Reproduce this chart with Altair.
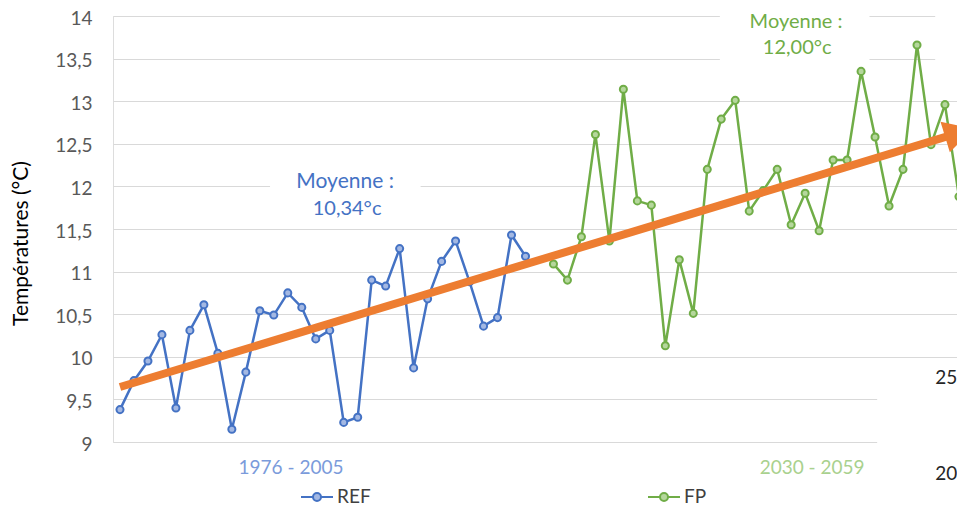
import altair as alt
import pandas as pd

# ---------------- data ----------------
ref_slots = list(range(0, 30))          # 1976 .. 2005
ref_temps = [9.38, 9.72, 9.95, 10.26, 9.40, 10.31, 10.61, 10.04, 9.15, 9.82,
             10.54, 10.49, 10.75, 10.58, 10.21, 10.31, 9.23, 9.29, 10.90, 10.83,
             11.27, 9.87, 10.68, 11.12, 11.36, 10.88, 10.36, 10.46, 11.43, 11.18]
fp_slots = list(range(31, 61))          # 2030 .. 2059
fp_temps = [11.09, 10.90, 11.41, 12.61, 11.36, 13.14, 11.83, 11.78, 10.13, 11.14,
            10.51, 12.20, 12.79, 13.01, 11.71, 11.95, 12.20, 11.55, 11.92, 11.48,
            12.31, 12.31, 13.35, 12.58, 11.77, 12.20, 13.66, 12.49, 12.96, 11.88]

series_names = ["REF", "FP"]
series_colors = ["#4472C4", "#70AD47"]
marker_fills = ["#A3B8E3", "#B5D79C"]
orange = "#ED7D31"

y_ticks = [9, 9.5, 10, 10.5, 11, 11.5, 12, 12.5, 13, 13.5, 14]

trend_x = [0, 59.4]
trend_y = [9.645, 12.598]
head_x = [59.89]
head_y = [12.623]

# text boxes (white backgrounds hiding gridlines)
box_x = [10.73, 42.9, 58.3, 54.15]
box_x2 = [21.5, 53.6, 62.0, 62.0]
box_y = [11.8, 13.42, 13.25, 8.5]
box_y2 = [12.25, 14.3, 14.3, 9.84]

df = pd.DataFrame({
    "i": ref_slots + fp_slots,
    "t": ref_temps + fp_temps,
    "serie": ["REF"] * len(ref_slots) + ["FP"] * len(fp_slots),
})
trend = pd.DataFrame({"i": trend_x, "t": trend_y})
head = pd.DataFrame({"i": head_x, "t": head_y})
boxes = pd.DataFrame({"i": box_x, "i2": box_x2, "t": box_y, "t2": box_y2})

FONT = "Lato"
xscale = alt.Scale(domain=[-0.5, 59.86], nice=False, zero=False)
yscale = alt.Scale(domain=[9, 14], nice=False, zero=False)

X = alt.X("i:Q", scale=xscale, axis=None)
Y = alt.Y("t:Q", scale=yscale, axis=alt.Axis(
    values=y_ticks, grid=True, gridColor="#D9D9D9", gridWidth=1,
    ticks=False, tickSize=0, domain=False, labelPadding=21, labelOffset=2,
    labelExpr="replace(toString(datum.value), '.', ',')",
    labelFont=FONT, labelFontSize=19, labelColor="#595959",
    title="Températures (°C)", titleFont=FONT, titleFontSize=21,
    titleFontWeight="normal", titleColor="#000000", titleAngle=270,
    titleX=-92, titleY=227, titleAlign="center", titleBaseline="middle"))

box_layer = alt.Chart(boxes).mark_rect(color="white").encode(
    x=X, x2="i2:Q", y=Y, y2="t2:Q")

legend_symbol = ("M-1,0L-0.25,0M0.25,0L1,0M0.25,0A0.25,0.25,0,1,1,-0.25,0"
                 "A0.25,0.25,0,1,1,0.25,0")

lines = alt.Chart(df).mark_line(strokeWidth=2.5).encode(
    x=X, y=Y,
    color=alt.Color(
        "serie:N", scale=alt.Scale(domain=series_names, range=series_colors),
        legend=alt.Legend(
            orient="none", legendX=187, legendY=464, direction="horizontal",
            title=None, symbolType=legend_symbol, symbolSize=1024,
            symbolStrokeWidth=2, symbolFillColor="#C3D2EC",
            labelFont=FONT, labelFontSize=19,
            labelColor="#404040", columnPadding=273, labelOffset=3)),
    detail="serie:N")

points = alt.Chart(df).mark_point(shape="circle", size=50, strokeWidth=2,
                                  filled=True, opacity=1).encode(
    x=X, y=Y,
    stroke=alt.Stroke("serie:N", scale=alt.Scale(domain=series_names, range=series_colors),
                      legend=None),
    fill=alt.Fill("serie:N", scale=alt.Scale(domain=series_names, range=marker_fills),
                  legend=None))

shaft = alt.Chart(trend).mark_line(color=orange, strokeWidth=8, strokeCap="butt").encode(
    x=X, y=Y)
arrowhead = alt.Chart(head).mark_point(
    shape="M-0.8,-1L1,0L-0.8,1Z", size=1024, angle=343.1, filled=True,
    color=orange, opacity=1, strokeWidth=0).encode(x=X, y=Y)


def txt(items, color, size=20, weight="normal", align="center"):
    d = pd.DataFrame(items, columns=["i", "t", "label"])
    return alt.Chart(d).mark_text(font=FONT, fontSize=size, fontWeight=weight,
                                  color=color, align=align, baseline="middle").encode(
        x=X, y=Y, text="label:N")


texts = [
    txt([(16.1, 12.05, "Moyenne :")], "#4472C4", size=21),
    txt([(16.24, 11.74, "10,34°c")], "#4472C4", size=20),
    txt([(48.35, 13.93, "Moyenne :")], "#70AD47", size=20),
    txt([(48.43, 13.63, "12,00°c")], "#70AD47", size=20),
    txt([(12.23, 8.70, "1976 - 2005")], "#7B9BDB", size=19),
    txt([(49.5, 8.70, "2030 - 2059")], "#A9D18E", size=19),
    txt([(58.3, 9.75, "25,0"), (58.3, 8.63, "20,0")], "#262626", size=19, align="left"),
]

chart = alt.layer(box_layer, lines, points, shaft, arrowhead, *texts).properties(
    width=844, height=426,
    autosize=alt.AutoSizeParams(type="none"),
    padding={"left": 105, "top": 8, "right": 0, "bottom": 63},
).configure_view(stroke=None).configure(font=FONT, background="white")

chart.save("out.html", embed_options={"renderer": "svg", "actions": False})
